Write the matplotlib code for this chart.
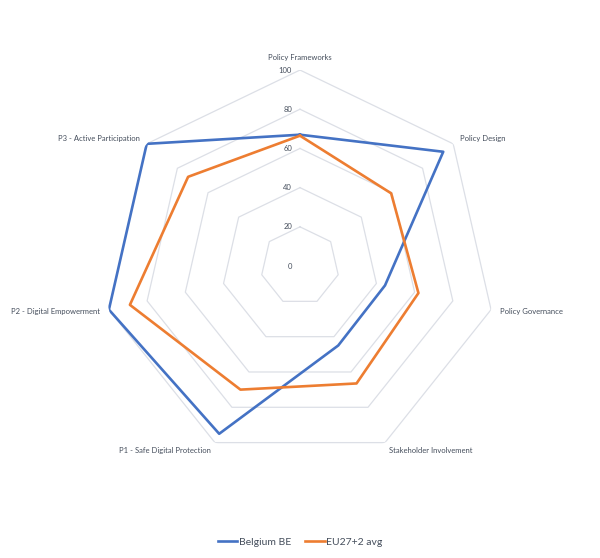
import numpy as np
import matplotlib.pyplot as plt

categories = ["Policy Frameworks", "Policy Design", "Policy Governance",
              "Stakeholder Involvement", "P1 - Safe Digital Protection",
              "P2 - Digital Empowerment", "P3 - Active Participation"]
belgium = [67, 93.5, 44.5, 45, 95, 100, 100]
eu_avg = [66.5, 59.5, 62, 66.5, 70, 89, 73]
ticks = [0, 20, 40, 60, 80, 100]

plt.rcParams['font.family'] = ['Lato', 'DejaVu Sans']
txt_col = '#454e5c'
grid_col = '#dcdfe6'

fig = plt.figure(figsize=(6, 5.58), dpi=100)
ax = fig.add_axes([0.1733, 0.172, 0.6533, 0.7025], projection='polar')
ax.set_theta_zero_location('N')
ax.set_theta_direction(-1)
ax.set_ylim(0, 100)
ax.grid(False)
ax.spines['polar'].set_visible(False)
ax.set_xticks([])
ax.set_yticks([])
ax.patch.set_alpha(0)

n = len(categories)
ang = np.linspace(0, 2 * np.pi, n, endpoint=False)
ang_c = np.append(ang, ang[0])

# heptagon grid
for t in ticks[1:]:
    ax.plot(ang_c, [t] * (n + 1), color=grid_col, lw=0.9, zorder=1)

for t in ticks:
    ax.annotate(str(t), (0, t), xytext=(-8, 0), textcoords='offset pixels',
                ha='right', va='center', fontsize=5.5, color=txt_col)

# category labels
for a, lab in zip(ang, categories):
    s, c = np.sin(a), np.cos(a)
    ha = 'left' if s > 0.1 else ('right' if s < -0.1 else 'center')
    va = 'bottom' if c > 0.95 else 'center'
    ax.annotate(lab, (a, 100), xytext=(9 * s, 9 * c), textcoords='offset pixels',
                ha=ha, va=va, fontsize=5.5, color=txt_col, annotation_clip=False)

ax.plot(ang_c, belgium + belgium[:1], color='#4472C4', lw=1.9, label='Belgium BE', zorder=3)
ax.plot(ang_c, eu_avg + eu_avg[:1], color='#ED7D31', lw=1.9, label='EU27+2 avg', zorder=3)

fig.legend(loc='center', bbox_to_anchor=(0.5, 1 - 542 / 558), ncol=2, frameon=False,
           fontsize=7.5, handlelength=1.9, handletextpad=0.15, columnspacing=1.3,
           labelcolor=txt_col)

fig.savefig('out.png', dpi=100)
